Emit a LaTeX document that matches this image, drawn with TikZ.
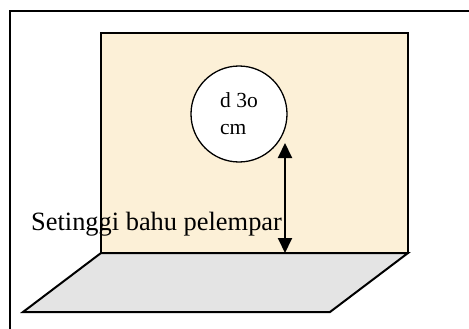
\documentclass[tikz,border=0pt]{standalone}
\usepackage{fontspec}
\setmainfont{Liberation Serif}
\usetikzlibrary{arrows.meta}
\definecolor{wallbeige}{RGB}{252,240,215}
\definecolor{floorgray}{RGB}{228,228,228}

\begin{document}
\begin{tikzpicture}[x=1pt, y=-1pt,
    wallface/.style={draw, line width=2pt, fill=wallbeige},
    floorface/.style={draw, line width=2pt, fill=floorgray},
    target/.style={circle, draw, line width=1.3pt, fill=white, minimum size=96pt, inner sep=0pt, align=left, font=\fontsize{21.5}{27}\selectfont},
    heightarrow/.style={{Triangle[length=15pt,width=14pt]}-{Triangle[length=15pt,width=14pt]}, line width=2pt}]
        \useasboundingbox (0,0) rectangle (469,329);
        % outer frame
        \draw[line width=1.6pt] (10,345) -- (10,11) -- (480,11);
        % wall and floor
        \draw[wallface] (101,33) rectangle (408,253);
        \draw[floorface] (101,253) -- (408,253) -- (330,312) -- (23,312) -- cycle;
        \node[target] (ring) at (239,114) {d 3o\\cm};
        \coordinate (top) at (285,143);
        \coordinate (base) at (285,253);
        \draw[heightarrow] (top) -- (base);
        \node[anchor=base west, inner sep=0pt, font=\fontsize{26.4}{30}\selectfont] (shoulder) at (31,230) {Setinggi bahu pelempar};
      \end{tikzpicture}
\end{document}
